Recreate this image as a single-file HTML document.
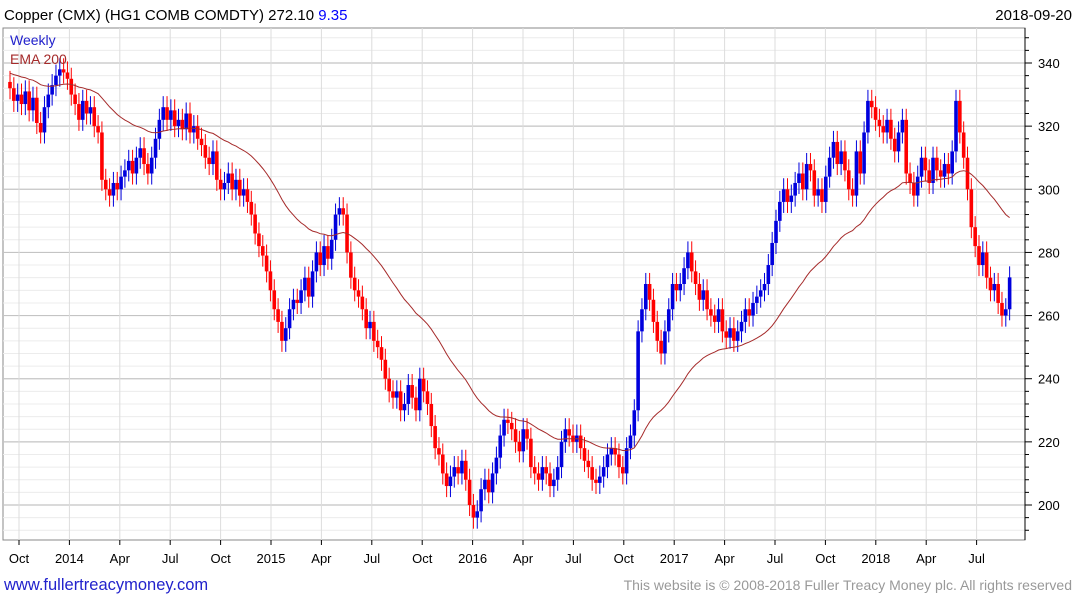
<!DOCTYPE html>
<html><head><meta charset="utf-8"><style>
body{margin:0;background:#fff;font-family:"Liberation Sans",sans-serif;}
svg{display:block}
</style></head><body>
<svg id="c" width="1075" height="600" xmlns="http://www.w3.org/2000/svg">
<text x="4" y="20" font-size="15" fill="#000">Copper (CMX) (HG1 COMB COMDTY) 272.10 <tspan fill="#0000ff">9.35</tspan></text>
<text x="1072" y="20" font-size="15" text-anchor="end" fill="#000">2018-09-20</text>
<rect x="3" y="28" width="1022" height="512" fill="none" stroke="#888"/>
<g id="grid"></g><g id="marks"></g><g id="axes"></g>
<text x="10" y="45" font-size="14" fill="#2222cc">Weekly</text>
<text x="10" y="64" font-size="14" fill="#a52a2a">EMA 200</text>
<text x="4" y="590" font-size="16.5" fill="#2222cc">www.fullertreacymoney.com</text>
<text x="1072" y="590" font-size="14" text-anchor="end" fill="#999">This website is © 2008-2018 Fuller Treacy Money plc. All rights reserved</text>
</svg>
<script>
const closes=[332,328,330,327,331,325,329,321,318,326,330,333,336,338,
337,335,330,327,322,328,324,326,320,318,
303,300,298,302,300,304,306,309,305,310,313,308,305,310,316,322,326,322,325,
320,322,319,324,318,320,316,314,310,308,312,303,300,302,305,300,303,298,300,296,292,286,282,279,274,268,
262,258,252,256,262,265,264,268,272,266,274,280,276,282,278,284,292,294,
292,280,272,268,266,262,256,258,252,250,246,240,236,234,236,230,232,238,234,230,240,236,232,225,218,216,
210,206,209,212,210,214,208,200,196,
198,205,208,204,210,215,222,227,226,224,220,217,224,221,212,210,208,212,210,206,208,212,220,224,222,220,222,218,214,212,208,207,209,212,216,218,216,212,210,218,222,230,
255,262,270,265,258,252,248,255,262,270,268,270,275,280,
274,270,265,268,262,260,258,262,255,253,256,252,255,258,262,260,264,266,268,270,276,283,290,296,300,
296,298,302,305,300,308,306,298,300,296,304,310,315,308,312,306,300,298,312,305,318,328,
326,322,320,318,322,316,312,318,322,305,302,298,304,310,306,302,310,306,304,308,305,312,328,
318,310,300,288,282,276,280,272,268,270,264,260,262,272.1];
const yTicks=[200,220,240,260,280,300,320,340];
const xTickLabels=["Oct","2014","Apr","Jul","Oct","2015","Apr","Jul","Oct","2016","Apr","Jul","Oct","2017","Apr","Jul","Oct","2018","Apr","Jul"];
const xTickMonths=[0,3,6,9,12,15,18,21,24,27,30,33,36,39,42,45,48,51,54,57];
const emaStart=337;

const NS="http://www.w3.org/2000/svg";
const y=v=>505-(v-200)*(442/140);
const x=i=>10+i*3.83;
const xm=m=>19+m*16.8;
function mk(tag,attrs,parent){const e=document.createElementNS(NS,tag);for(const k in attrs)e.setAttribute(k,attrs[k]);document.getElementById(parent).appendChild(e);return e;}
for(let v=188;v<=352;v+=4){if(y(v)<29||y(v)>539)continue;
 const major=v%20===0;
 const l=mk('line',{x1:3,x2:1025,y1:y(v),y2:y(v),stroke:major?'#c4c4c4':'#ececec','stroke-width':major?1.2:1},'grid');
 
 }
xTickMonths.forEach((m,k)=>{
 const l=mk('line',{x1:xm(m),x2:xm(m),y1:28,y2:540,stroke:'#dcdcdc'},'grid');
 
 
 const t=mk('text',{x:xm(m),y:563,'font-size':13,'text-anchor':'middle',fill:'#000'},'axes');t.textContent=xTickLabels[k];
 
 
 const tk=mk('line',{x1:xm(m),x2:xm(m),y1:540,y2:545,stroke:'#000'},'axes');
 
 });
const ax=mk('line',{x1:1025,x2:1025,y1:28,y2:540,stroke:'#000'},'axes');


for(let v=188;v<=352;v+=4){if(y(v)<29||y(v)>539)continue;
 const tk=mk('line',{x1:1025,x2:v%20===0?1032:1029,y1:y(v),y2:y(v),stroke:'#000'},'axes');
 
 }
yTicks.forEach(v=>{const t=mk('text',{x:1038,y:y(v)+5,'font-size':13,fill:'#000'},'axes');t.textContent=v;
 
 });
let prev=334;
closes.forEach((c,i)=>{
 const o=prev;prev=c;const up=c>=o;const col=up?'#0000dd':'#ff0000';
 const hi=Math.max(o,c)+3.5,lo=Math.min(o,c)-3.5;
 const w=mk('line',{x1:x(i),x2:x(i),y1:y(hi),y2:y(lo),stroke:col,'stroke-width':1},'marks');
 
 
 const top=y(Math.max(o,c)),h=Math.max(1.5,y(Math.min(o,c))-top);
 const b=mk('rect',{x:x(i)-1.8,y:top,width:3.6,height:h,fill:col},'marks');
 
 });
let e=emaStart;const a=2/41;let pts=[];
closes.forEach((c,i)=>{e=e+a*(c-e);pts.push(x(i).toFixed(1)+','+y(e).toFixed(1));});
const p=mk('polyline',{points:pts.join(' '),fill:'none',stroke:'#a52a2a','stroke-width':1},'marks');


</script>
</body></html>
